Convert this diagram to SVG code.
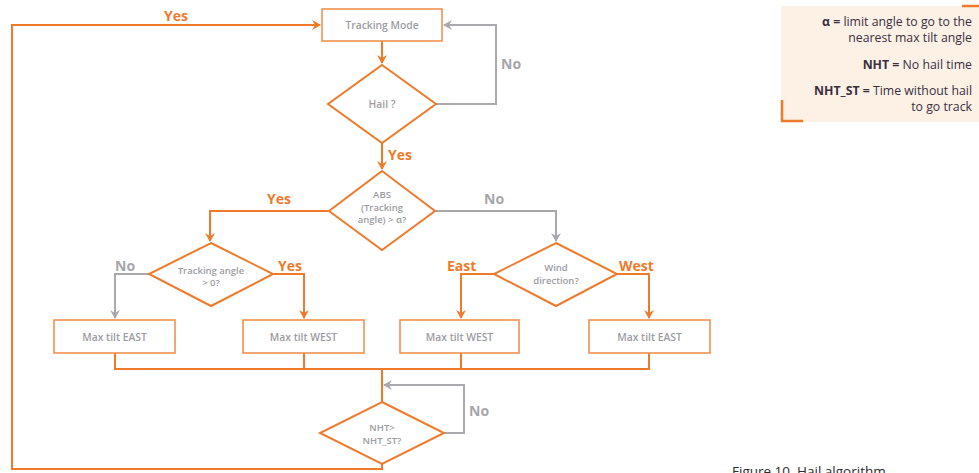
<svg xmlns="http://www.w3.org/2000/svg" width="979" height="473" viewBox="0 0 979 473">
<style>
.box{fill:#fff;stroke:#f29250;stroke-width:1.6}
.dia{fill:#fff;stroke:#f07a2a;stroke-width:2}
.o{fill:none;stroke:#f07a2a;stroke-width:2}
.g{fill:none;stroke:#a9a9ad;stroke-width:2}
.nt{font-family:"Open Sans","Liberation Sans",sans-serif;font-size:10.3px;font-weight:600;fill:#9c9ca2;text-anchor:middle}
.nt2{font-family:"Open Sans","Liberation Sans",sans-serif;font-size:9.5px;font-weight:600;fill:#9c9ca2;text-anchor:middle}
.yl{font-family:"Open Sans","Liberation Sans",sans-serif;font-size:14px;font-weight:bold;fill:#f07a2a}
.nl{font-family:"Open Sans","Liberation Sans",sans-serif;font-size:14px;font-weight:bold;fill:#a5a5aa}
.lg{font-family:"Open Sans","Liberation Sans",sans-serif;font-size:12.3px;fill:#3a2f3d;text-anchor:end}
</style>
<defs>
<marker id="ao" markerWidth="10" markerHeight="10" refX="8" refY="5" orient="auto" markerUnits="userSpaceOnUse"><path d="M0,0 L9,5 L0,10 L3,5 Z" fill="#f07a2a"/></marker>
<marker id="ag" markerWidth="10" markerHeight="10" refX="8" refY="5" orient="auto" markerUnits="userSpaceOnUse"><path d="M0,0 L9,5 L0,10 L3,5 Z" fill="#a9a9ad"/></marker>
</defs>
<g id="connectors">
<polyline class="o" points="382,464 382,469 12,469 12,25 320,25" marker-end="url(#ao)"/>
<line class="o" x1="382" y1="41" x2="382" y2="63" marker-end="url(#ao)"/>
<polyline class="g" points="436,104 496,104 496,25 444,25" marker-end="url(#ag)"/>
<line class="o" x1="382" y1="143" x2="382" y2="169" marker-end="url(#ao)"/>
<polyline class="o" points="329,211 210,211 210,241" marker-end="url(#ao)"/>
<polyline class="g" points="435,211 556,211 556,241" marker-end="url(#ag)"/>
<polyline class="g" points="149,274 115,274 115,318" marker-end="url(#ag)"/>
<polyline class="o" points="273,274 304,274 304,318" marker-end="url(#ao)"/>
<polyline class="o" points="494,274 461,274 461,318" marker-end="url(#ao)"/>
<polyline class="o" points="617,274 649,274 649,318" marker-end="url(#ao)"/>
<polyline class="o" points="115,353 115,369 649,369 649,353"/>
<line class="o" x1="304" y1="353" x2="304" y2="369"/>
<line class="o" x1="461" y1="353" x2="461" y2="369"/>
<line class="o" x1="382" y1="369" x2="382" y2="402"/>
<polyline class="g" points="444,433 464,433 464,385 384,385" marker-end="url(#ag)"/>
<text class="yl" x="164" y="21">Yes</text>
<text class="nl" x="501" y="69">No</text>
<text class="yl" x="388" y="160">Yes</text>
<text class="yl" x="267" y="204">Yes</text>
<text class="nl" x="484" y="204">No</text>
<text class="nl" x="115" y="271">No</text>
<text class="yl" x="278" y="271">Yes</text>
<text class="yl" x="447" y="271">East</text>
<text class="yl" x="619" y="271">West</text>
<text class="nl" x="469" y="416">No</text>
</g>
<g id="tracking-mode"><rect class="box" x="322" y="9" width="120" height="32"/><text class="nt" x="382" y="29">Tracking Mode</text></g>
<g id="hail"><polygon class="dia" points="382,65 436,104 382,143 328,104"/><text class="nt" x="382" y="108">Hail ?</text></g>
<g id="abs"><polygon class="dia" points="382,171 435,211 382,250 329,211"/><text class="nt2" x="382" y="198">ABS</text><text class="nt2" x="382" y="210.5">(Tracking</text><text class="nt2" x="382" y="223">angle) &gt; α?</text></g>
<g id="tracking-angle"><polygon class="dia" points="211,243 273,274 211,306 149,274"/><text class="nt2" x="211" y="273.5">Tracking angle</text><text class="nt2" x="211" y="286">&gt; 0?</text></g>
<g id="wind"><polygon class="dia" points="556,243 617,274 556,306 494,274"/><text class="nt2" x="556" y="271">Wind</text><text class="nt2" x="556" y="283.5">direction?</text></g>
<g id="max-tilt-east-1"><rect class="box" x="54" y="320" width="121" height="33"/><text class="nt" x="114.5" y="340.5">Max tilt EAST</text></g>
<g id="max-tilt-west-1"><rect class="box" x="243" y="320" width="121" height="33"/><text class="nt" x="303.5" y="340.5">Max tilt WEST</text></g>
<g id="max-tilt-west-2"><rect class="box" x="400" y="320" width="119" height="33"/><text class="nt" x="459.5" y="340.5">Max tilt WEST</text></g>
<g id="max-tilt-east-2"><rect class="box" x="589" y="320" width="121" height="33"/><text class="nt" x="649.5" y="340.5">Max tilt EAST</text></g>
<g id="nht"><polygon class="dia" points="382,402 444,433 382,464 320,433"/><text class="nt2" x="382" y="431">NHT&gt;</text><text class="nt2" x="382" y="443.5">NHT_ST?</text></g>
<g id="legend">
<rect x="781" y="6" width="198" height="116" fill="#fdf1e6"/>
<line x1="962" y1="6" x2="979" y2="6" stroke="#f07a2a" stroke-width="2.5"/>
<polyline points="782,100 782,121 803,121" fill="none" stroke="#f07a2a" stroke-width="2.5"/>
<text class="lg" x="972" y="26"><tspan font-weight="bold">α =</tspan> limit angle to go to the</text>
<text class="lg" x="972" y="42">nearest max tilt angle</text>
<text class="lg" x="972" y="69"><tspan font-weight="bold">NHT =</tspan> No hail time</text>
<text class="lg" x="972" y="95"><tspan font-weight="bold">NHT_ST =</tspan> Time without hail</text>
<text class="lg" x="972" y="111">to go track</text>
</g>
<text x="732" y="476" font-family="'Open Sans','Liberation Sans',sans-serif" font-size="13.5" fill="#2b2b2b">Figure 10. Hail algorithm</text>
</svg>
